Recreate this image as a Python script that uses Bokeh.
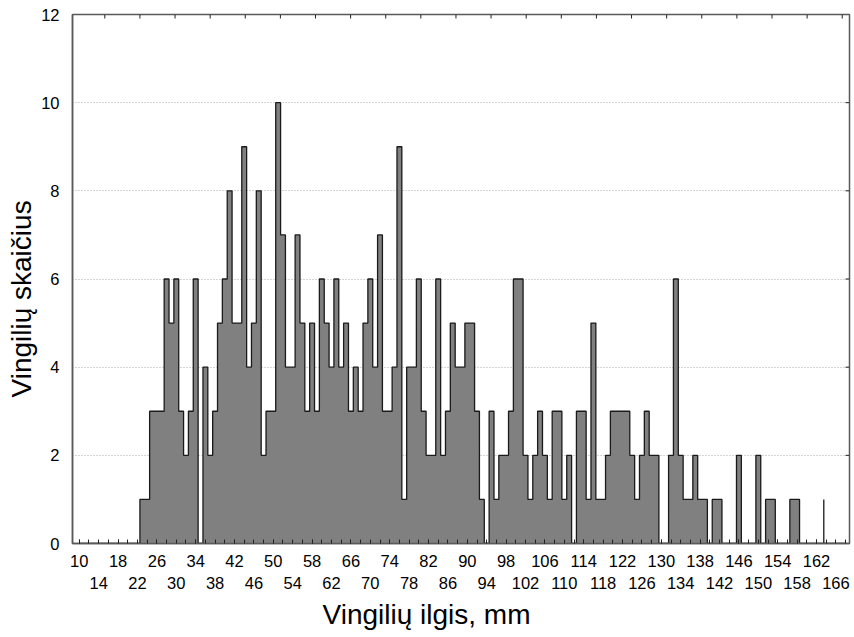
from bokeh.plotting import figure
from bokeh.models import LinearAxis, FixedTicker, Range1d, Grid, Title, ColumnDataSource
from bokeh.embed import file_html
from bokeh.resources import INLINE
import numpy as np

# Meander lengths (mm), one bin per millimetre, 10 ... 168
lengths = list(range(10, 169))
counts = [
    0, 0, 0, 0, 0, 0, 0, 0, 0, 0,        # 10-19
    0, 0, 0, 1, 1, 3, 3, 3, 6, 5,        # 20-29
    6, 3, 2, 3, 6, 0, 4, 2, 3, 5,        # 30-39
    6, 8, 5, 5, 9, 4, 5, 8, 2, 3,        # 40-49
    3, 10, 7, 4, 4, 7, 5, 3, 5, 3,       # 50-59
    6, 5, 4, 6, 4, 5, 3, 4, 3, 5,        # 60-69
    6, 4, 7, 3, 3, 4, 9, 1, 4, 4,        # 70-79
    6, 3, 2, 2, 6, 2, 3, 5, 4, 4,        # 80-89
    5, 5, 3, 1, 0, 3, 1, 2, 2, 3,        # 90-99
    6, 6, 2, 1, 2, 3, 2, 1, 3, 3,        # 100-109
    1, 2, 0, 3, 3, 1, 5, 1, 1, 2,        # 110-119
    3, 3, 3, 3, 2, 1, 2, 3, 2, 2,        # 120-129
    0, 0, 2, 6, 2, 1, 1, 2, 1, 1,        # 130-139
    0, 1, 1, 0, 0, 0, 2, 0, 0, 0,        # 140-149
    2, 0, 1, 1, 0, 0, 0, 1, 1, 0,        # 150-159
    0, 0, 0, 0, 0, 0, 0, 0, 0,           # 160-168
]
# last open bin, drawn only as its edge
tail_edge = [163.5]
tail_count = [1]

x_ticks_row1 = list(range(10, 163, 8))
x_ticks_row2 = list(range(14, 167, 8))
x_minor = list(range(10, 169, 2))
y_ticks = [0, 2, 4, 6, 8, 10, 12]
x_title = "Vingilių ilgis, mm"
y_title = "Vingilių skaičius"

FONT = "Liberation Sans"
AXIS_COLOR = "#5a5a5a"
X0, X1 = 8.6, 168.8
Y0, Y1 = 0, 12
FRAME_W, FRAME_H = 777, 529
PX_X = FRAME_W / (X1 - X0)      # pixels per mm
PX_Y = FRAME_H / (Y1 - Y0)      # pixels per count

src = ColumnDataSource(dict(x=lengths, y=counts))

p = figure(width=854, height=637, output_backend="svg", toolbar_location=None,
           x_range=Range1d(X0, X1), y_range=Range1d(Y0, Y1),
           x_axis_location=None, y_axis_location=None,
           min_border_left=72, min_border_right=5, min_border_top=14, min_border_bottom=94)
for r in list(p.center):
    if isinstance(r, Grid):
        r.visible = False
p.background_fill_color = "white"
p.border_fill_color = "white"
p.outline_line_color = AXIS_COLOR
p.outline_line_width = 1.5

# dotted horizontal grid
p.add_layout(Grid(dimension=1, ticker=FixedTicker(ticks=[2, 4, 6, 8, 10]),
                  grid_line_color="#aaaaaa", grid_line_dash="1 2", grid_line_width=1))

# histogram: filled steps plus dark outline
p.varea_step(x="x", y1=0, y2="y", step_mode="center", source=src, fill_color="#808080")
p.step(x="x", y="y", mode="center", source=src, line_color="#1a1a1a", line_width=1.3)
p.segment(x0=tail_edge, y0=[0], x1=tail_edge, y1=tail_count, line_color="#1a1a1a", line_width=1.3)

# inner ticks on the top and right frame edges
top_ticks = np.linspace(15.26, 167.3, 22)
p.segment(x0=top_ticks, y0=Y1, x1=top_ticks, y1=Y1 - 4 / PX_Y, line_color="#222222", line_width=1)
right_ticks = np.array([2, 4, 6, 8, 10])
p.segment(x0=X1, y0=right_ticks, x1=X1 - 4 / PX_X, y1=right_ticks, line_color="#222222", line_width=1)

# left axis
yax = LinearAxis(ticker=FixedTicker(ticks=y_ticks))
yax.axis_line_color = AXIS_COLOR
yax.axis_line_width = 1.5
yax.major_tick_in = 0
yax.major_tick_out = 0
yax.minor_tick_line_color = None
yax.major_label_standoff = 13
yax.major_label_text_font = FONT
yax.major_label_text_font_size = "16.5px"
yax.major_label_text_color = "black"
p.add_layout(yax, "left")

# bottom axis, first label row (ticks every 2 mm)
xax1 = LinearAxis(ticker=FixedTicker(ticks=x_ticks_row1, minor_ticks=x_minor))
xax1.axis_line_color = AXIS_COLOR
xax1.axis_line_width = 1.5
xax1.major_tick_in = 4
xax1.major_tick_out = 0
xax1.minor_tick_in = 4
xax1.minor_tick_out = 0
xax1.major_tick_line_color = "#222222"
xax1.minor_tick_line_color = "#222222"
xax1.major_label_standoff = 11
xax1.major_label_text_font = FONT
xax1.major_label_text_font_size = "16.5px"
xax1.major_label_text_color = "black"
p.add_layout(xax1, "below")

# bottom axis, second label row
xax2 = LinearAxis(ticker=FixedTicker(ticks=x_ticks_row2))
xax2.axis_line_color = None
xax2.major_tick_line_color = None
xax2.minor_tick_line_color = None
xax2.major_label_standoff = 1
xax2.major_label_text_font = FONT
xax2.major_label_text_font_size = "16.5px"
xax2.major_label_text_color = "black"
p.add_layout(xax2, "below")

# axis titles
p.add_layout(Title(text=x_title, align="left", offset=250, standoff=11,
                   text_font=FONT, text_font_size="28px", text_font_style="normal",
                   text_color="black"), "below")
p.add_layout(Title(text=y_title, align="left", offset=146, standoff=4,
                   text_font=FONT, text_font_size="28px", text_font_style="normal",
                   text_color="black"), "left")

open("out.html", "w").write(file_html(p, INLINE))
